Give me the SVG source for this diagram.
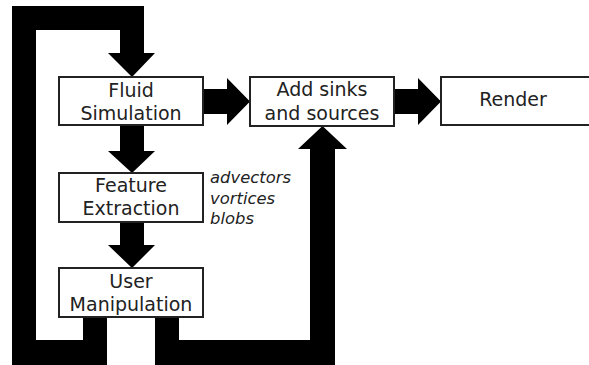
<svg xmlns="http://www.w3.org/2000/svg" width="589" height="365" viewBox="0 0 589 365">
<style>
.box{fill:#fff;stroke:#222;stroke-width:2}
.lbl{font-family:"DejaVu Sans","Liberation Sans",sans-serif;font-size:19px;fill:#222;text-anchor:middle}
.it{font-family:"DejaVu Sans","Liberation Sans",sans-serif;font-size:16.4px;font-style:italic;fill:#222}
.con{fill:#000}
</style>
<rect width="589" height="365" fill="#fff"/>
<g id="connectors">
<polygon class="con" points="12,6 144,6 144,53 155,53 132,77 108,53 120,53 120,30 36,30 36,340 83,340 83,317 107,317 107,365 12,365"/>
<polygon class="con" points="155,317 179,317 179,340 310,340 310,149 298,149 322.5,126 347,149 335,149 335,365 155,365"/>
<polygon class="con" points="120,125 144,125 144,151 155,151 132,173 108,151 120,151"/>
<polygon class="con" points="120,222 144,222 144,245 155,245 132,268 108,245 120,245"/>
<polygon class="con" points="203,89 227,89 227,78 250,101.5 227,125 227,114 203,114"/>
<polygon class="con" points="394,89 418,89 418,78 441,101.5 418,125 418,114 394,114"/>
</g>
<g id="fluid">
<rect class="box" x="59" y="77" width="144" height="48"/>
<text class="lbl" x="131" y="97">Fluid</text>
<text class="lbl" x="131" y="120">Simulation</text>
</g>
<g id="feature">
<rect class="box" x="59" y="173" width="144" height="49"/>
<text class="lbl" x="131" y="192">Feature</text>
<text class="lbl" x="131" y="215">Extraction</text>
</g>
<g id="user">
<rect class="box" x="59" y="268" width="144" height="49"/>
<text class="lbl" x="131" y="288">User</text>
<text class="lbl" x="131" y="311">Manipulation</text>
</g>
<g id="sinks">
<rect class="box" x="250" y="77" width="144" height="49"/>
<text class="lbl" x="322" y="96">Add sinks</text>
<text class="lbl" x="322" y="120">and sources</text>
</g>
<g id="render">
<rect class="box" x="441" y="77" width="155" height="48"/>
<text class="lbl" x="513" y="106">Render</text>
</g>
<g id="features-note">
<text class="it" x="210" y="183">advectors</text>
<text class="it" x="210" y="204">vortices</text>
<text class="it" x="210" y="224">blobs</text>
</g>
</svg>
